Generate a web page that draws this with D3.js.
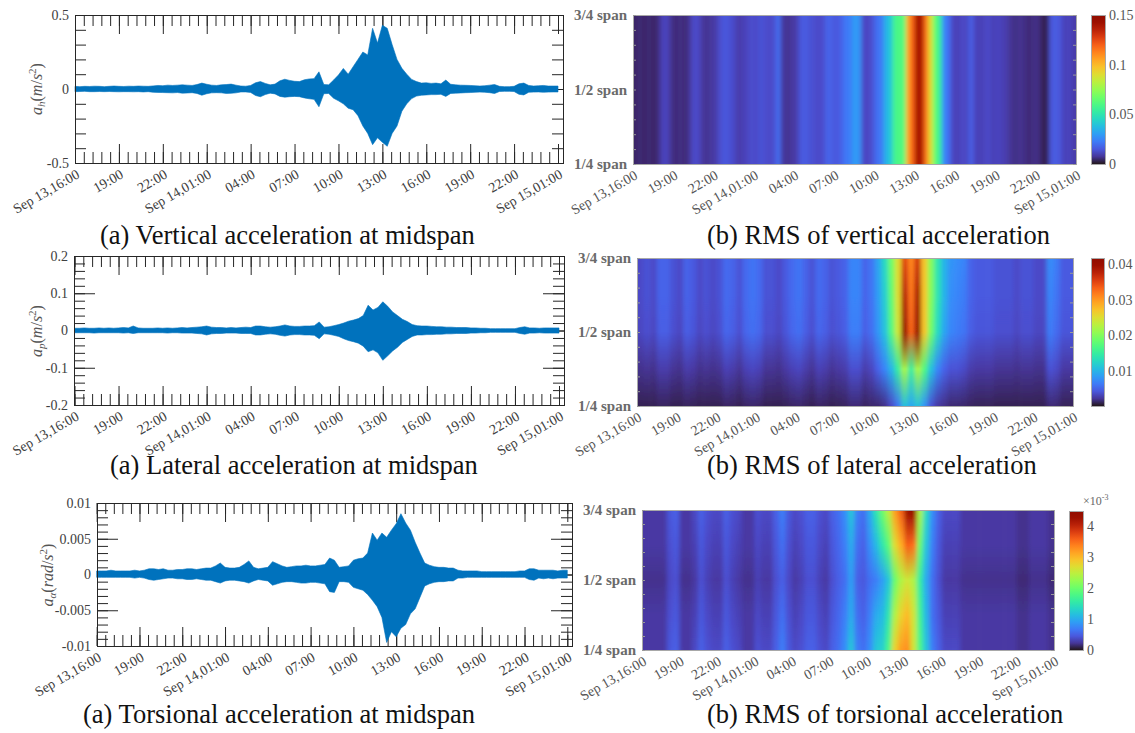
<!DOCTYPE html>
<html>
<head>
<meta charset="utf-8">
<script src="https://cdn.jsdelivr.net/npm/d3@7"></script>
<style>
  body { margin: 0; background: #fff; }
  svg { display: block; }
</style>
</head>
<body>
<svg id="fig" width="1135" height="733"></svg>
<script>
// ---- data (values in 1e-3 units: m/s^2 or rad/s^2) ----
const tickLabels = ["Sep 13,16:00","19:00","22:00","Sep 14,01:00","04:00","07:00",
                    "10:00","13:00","16:00","19:00","22:00","Sep 15,01:00"]

// acceleration envelopes, one value every 20 min from Sep 13 16:00 to Sep 15 01:00
const seriesStepMin = 20
const vertUp = [18,16,18,17,19,18,16,18,20,18,17,19,18,20,19,18, 21,24,22,26,24,26,28,26,24, 30,40,32, 26,24,28, 30,33,26, 20,19,24, 42,50,38, 28,33, 55,66,58,52, 50,62,68,70, 116, 30,28, 60,95,139, 100,150,200,250,230,410,310,430,410,300,200,140,100,65,50, 40,42,38,40,35, 60, 32,28,26,25,24,22, 20,22, 26,30, 18,16,16,18, 35,40, 24,20,22,24,20,20,20]
const vertLo = [18,17,16,18,18,17,18,17,18,19,18,18,19,18,20,18, 22,23,24,25,26,24,28,27,25, 30,42,32, 26,25,26, 30,29,26, 20,20,23, 44,52,38, 28,33, 50,55,52,50, 52,60,66,70, 120, 32,30, 62,80,100, 130,140,180,250,300,376,330,360,387,300,250,150,100,65,48, 42,40,38,38,36, 50, 30,28,27,25,24,22, 21,22, 25,30, 17,16,16,17, 36,40, 22,21,20,22,21,20,20]
const latUp = [6,6,7,6,6,7,6,7,6,7,8,7,12,7,6,6, 6,7,6,7,6,7,8,7,8, 9,10,12, 9,8,8, 7,8,7, 8,9,8, 12,12,10, 9,10, 12,15,12,11, 11,12,12,13, 23, 9,10, 13,16,20, 25,28,32,40,68,55,62,77,65,50,40,30,24,16,13, 12,12,11,10,10, 9, 9,8,8,8,7,7, 6,6, 5,5, 5,5,5,5, 8,10, 7,7,6,7,7,7,7]
const latLo = [6,6,6,6,7,6,6,6,6,6,7,6,8,6,6,6, 6,6,6,7,6,6,7,7,7, 8,9,12, 9,8,8, 7,7,7, 8,8,8, 12,12,10, 9,10, 13,15,12,11, 11,12,12,13, 22, 9,10, 13,16,22, 27,30,34,42,57,52,60,80,68,55,45,32,24,16,12, 12,11,11,10,10, 9, 9,8,8,8,7,7, 6,6, 5,5, 5,5,5,5, 8,10, 7,7,6,7,7,7,7]
const torUp = [0.5,0.5,0.5,0.6,0.5,0.5,0.5,0.5,0.6,0.5,0.6,0.8,0.8,0.7,0.8,0.6, 0.6,0.7,0.7,0.8,0.8,0.7,0.8,0.9,0.9, 1.2,1.6,1.0, 0.9,0.9,1.0, 1.4,1.9,1.0, 0.8,0.9,1.0, 1.8,1.5,1.2, 1.0,1.1, 1.2,1.2,1.3,1.2, 1.2,1.3,1.4,2.3, 2.0, 1.0,1.1, 1.2,2.0,2.2, 2.3,3.0,5.8,4.8,5.8,5.2,6.2,7.1,8.5,7.2,6.2,4.5,3.0,1.6,1.3, 1.1,1.0,1.0,0.9,0.9, 0.6, 0.5,0.5,0.5,0.5,0.4,0.4, 0.4,0.4, 0.4,0.4, 0.4,0.4,0.5,0.5, 0.8,0.8, 0.6,0.6,0.6,0.6,0.5,0.6,0.6]
const torLo = [0.4,0.4,0.4,0.4,0.4,0.4,0.4,0.4,0.5,0.4,0.5,0.7,0.8,0.7,0.6,0.5, 0.5,0.6,0.6,0.7,0.7,0.6,0.7,0.8,0.8, 1.0,1.2,0.9, 0.8,0.8,0.9, 1.0,1.2,0.9, 0.7,0.8,0.9, 1.5,1.3,1.1, 1.0,1.0, 1.1,1.2,1.2,1.1, 1.1,1.2,1.3,2.4, 2.5, 1.0,1.0, 1.1,1.8,2.0, 2.2,2.8,3.6,4.5,6.0,9.5,8.0,8.7,7.5,7.0,5.5,4.8,3.2,1.6,1.3, 1.1,1.0,1.0,0.9,0.9, 0.5, 0.5,0.4,0.4,0.4,0.4,0.4, 0.4,0.4, 0.4,0.4, 0.4,0.4,0.4,0.4, 0.7,0.8, 0.5,0.6,0.5,0.6,0.5,0.5,0.5]

const vertYTicks = [-500, 0, 500], vertYLabels = ["-0.5", "0", "0.5"]
const latYTicks = [-200, -100, 0, 100, 200], latYLabels = ["-0.2", "-0.1", "0", "0.1", "0.2"]
const torYTicks = [-10, -5, 0, 5, 10], torYLabels = ["-0.01", "-0.005", "0", "0.005", "0.01"]

// RMS along the span; vertical every 20 min (uniform over span), others every 30 min
const rmsVert = [4,5,4,5,4,5, 10,11,7, 5,6,5,7, 12,12, 8,7,8,9, 13,15,14,12, 9,10,11, 13,12,14,13,12,13, 20, 8,7,8,9, 15,16,14, 13,12,13, 18,16, 15,17, 22,23, 30,28, 12,11,14, 20,22, 35,40, 58,60,62, 105, 120, 140,138, 115, 90, 65,55, 25,20, 11,10,12,11,17, 11,10,11,12,10,11,10,9, 7,6,7,6,5,6,6, 3,3, 15,16,14, 10,11,9]

const heatSpans = [0.75, 0.625, 0.5, 0.375, 0.25]
const latRms34 = [3.5,4,3.5,5,5,4,3.5,5,4.5,3.5, 4,3.5,4,5.5,5,4,5.5,6,5.5,4, 4,3.5,4.5,5.5,6,5,4,5.5,5,4, 4.5,5,7,7,5,6,9,13,19,25, 35,31,36,27,20,14,10,8,7.5,7, 5,4.5,4.5,4.5,4,4,4,3.5,4,4, 3.5,3.5,7.5,6.5,4.5,4.5]
const latRms58 = [3.5,4,3.5,5,5,4,3.5,5,4.5,3.5, 4,3.5,4,5.5,5,4,5.5,6,5.5,4, 4,3.5,4.5,5.5,6,5,4,5.5,5,4, 4.5,5,7,7,5,6,8.5,12,18,25, 38,32,39,27,20,14,10,7.5,7,6.5, 5,4.5,4.5,4.5,4,4,4,3.5,4,4, 3.5,3.5,7,6,4.5,4.5]
const latRms12 = [3.3,3.8,3.3,4.7,4.7,3.8,3.3,4.7,4.2,3.3, 3.8,3.3,3.8,5.2,4.7,3.8,5.2,5.7,5.2,3.8, 3.8,3.3,4.2,5.2,5.7,4.7,3.8,5.2,4.7,3.8, 4.2,4.7,6.6,6.6,4.7,5.7,8,11,17,24, 41,33,41,27,19,13,9,7,6.5,6, 4.7,4.2,4.2,4.2,3.8,3.8,3.8,3.3,3.8,3.8, 3.3,3.3,6.5,5.5,4.2,4.2]
const latRms38 = [2,2.2,2,2.7,2.7,2.2,2,2.7,2.5,2, 2.2,2,2.2,3,2.7,2.2,3,3.3,3,2.2, 2.2,2,2.5,3,3.3,2.7,2.2,3,2.7,2.2, 2.5,2.7,3.8,3.8,2.7,3.3,5,7,10,15, 22,15,22,17,11,7,5,4,4,3.5, 2.7,2.5,2.5,2.5,2.2,2.2,2.2,2,2.2,2.2, 2,2,4,3.5,2.5,2.5]
const latRms14 = [1,1,1,1.2,1.2,1,1,1.2,1.1,1, 1,1,1,1.3,1.2,1,1.3,1.4,1.3,1, 1,1,1.1,1.3,1.4,1.2,1,1.3,1.2,1, 1.1,1.2,1.6,1.6,1.2,1.4,1.5,2,3.5,6, 11,9,11,8,4,2.5,2,1.5,1.5,1.4, 1.2,1.1,1.1,1.1,1,1,1,1,1,1, 1,1,1.6,1.5,1.1,1.1]

const torRms34 = [0.25,0.25,0.25,0.25,0.45,0.5,0.25,0.25,0.35,0.5, 0.4,0.35,0.35,0.5,0.4,0.35,0.25,0.25,0.4,0.35, 0.35,0.5,0.7,0.45,0.35,0.4,0.5,0.5,0.4,0.35, 0.5,0.6,0.8,1.2,0.7,0.6,1.0,1.5,2.0,2.5, 3.2,3.6,4.3,4.4,2.4,1.4,0.8,0.5,0.35,0.35, 0.35,0.25,0.25,0.25,0.25,0.25,0.25,0.25,0.25,0.25, 0.2,0.2,0.25,0.25,0.25,0.2]
const torRms58 = [0.25,0.25,0.25,0.25,0.4,0.45,0.25,0.25,0.3,0.45, 0.35,0.3,0.3,0.45,0.35,0.3,0.25,0.25,0.35,0.3, 0.3,0.45,0.6,0.4,0.3,0.35,0.45,0.45,0.35,0.3, 0.45,0.55,0.7,1.0,0.6,0.5,0.8,1.1,1.5,1.9, 2.7,3.1,3.6,3.5,2.0,1.2,0.7,0.45,0.3,0.3, 0.3,0.25,0.25,0.25,0.25,0.25,0.25,0.25,0.25,0.25, 0.2,0.2,0.25,0.25,0.25,0.2]
const torRms12 = [0.2,0.2,0.2,0.2,0.35,0.4,0.2,0.2,0.25,0.4, 0.3,0.25,0.25,0.4,0.3,0.25,0.2,0.2,0.3,0.25, 0.25,0.4,0.5,0.35,0.25,0.3,0.4,0.4,0.3,0.25, 0.4,0.5,0.6,0.9,0.5,0.45,0.6,0.7,0.9,1.2, 2.0,2.4,2.6,2.4,1.6,1.0,0.6,0.4,0.25,0.25, 0.25,0.2,0.2,0.2,0.2,0.2,0.2,0.2,0.2,0.2, 0.15,0.15,0.2,0.2,0.2,0.15]
const torRms38 = [0.25,0.25,0.25,0.25,0.4,0.45,0.25,0.25,0.3,0.45, 0.35,0.3,0.3,0.45,0.35,0.3,0.25,0.25,0.35,0.3, 0.3,0.45,0.6,0.4,0.3,0.35,0.45,0.45,0.35,0.3, 0.45,0.55,0.7,1.0,0.6,0.5,0.7,1.0,1.1,1.5, 2.4,2.8,3.0,2.6,1.7,1.1,0.6,0.45,0.3,0.3, 0.3,0.25,0.25,0.25,0.25,0.25,0.25,0.25,0.25,0.25, 0.2,0.2,0.25,0.25,0.25,0.2]
const torRms14 = [0.25,0.25,0.25,0.25,0.45,0.5,0.25,0.25,0.35,0.5, 0.4,0.35,0.35,0.5,0.4,0.35,0.25,0.25,0.4,0.35, 0.35,0.5,0.7,0.45,0.35,0.4,0.5,0.5,0.4,0.35, 0.5,0.6,0.8,1.2,0.7,0.6,0.8,1.2,1.3,1.8, 2.8,3.2,3.3,2.6,1.8,1.2,0.7,0.5,0.35,0.35, 0.35,0.25,0.25,0.25,0.25,0.25,0.25,0.25,0.25,0.25, 0.2,0.2,0.25,0.25,0.25,0.2]

const spanTicks = [0.25, 0.5, 0.75], spanLabels = ["1/4 span", "1/2 span", "3/4 span"]
const cbVertTicks = [0, 50, 100, 150], cbVertLabels = ["0", "0.05", "0.1", "0.15"]
const cbLatTicks = [10, 20, 30, 40], cbLatLabels = ["0.01", "0.02", "0.03", "0.04"]
const cbTorTicks = [0, 1, 2, 3, 4], cbTorLabels = ["0", "1", "2", "3", "4"]

const captionsLeft = ["(a) Vertical acceleration at midspan", "(a) Lateral acceleration at midspan", "(a) Torsional acceleration at midspan"]
const captionsRight = ["(b) RMS of vertical acceleration", "(b) RMS of lateral acceleration", "(b) RMS of torsional acceleration"]

// ---- drawing ----
const svg = d3.select("#fig")
const defs = svg.append("defs")
const FONT = "'Liberation Serif','Times New Roman',serif"
const axisCol = "#262626", textCol = "#404040", blue = "#0072bd"

const tStart = new Date(2021, 8, 13, 16, 0)
const tEnd = new Date(2021, 8, 15, 1, 0)
const majorTimes = tickLabels.map((_, i) => d3.timeHour.offset(tStart, 3 * i))
const minorTimes = d3.range(0, 33 * 60 + 1, 36).map(m => d3.timeMinute.offset(tStart, m))

defs.append("filter").attr("id", "hblur")
  .attr("x", "-5%").attr("width", "110%")
  .append("feGaussianBlur").attr("stdDeviation", "2.2 0")

function addAxis(g, axis, tr, col) {
  return g.append("g").attr("transform", tr).attr("color", col || axisCol)
    .call(axis).call(a => a.select(".domain").remove())
}

function timeLabels(g, x, yb, col) {
  const a = addAxis(g, d3.axisBottom(x).tickValues(majorTimes).tickSize(0)
      .tickFormat((d, i) => tickLabels[i]), `translate(0,${yb})`)
  a.attr("font-family", FONT).attr("font-size", 14)
  a.selectAll("text")
    .attr("fill", col).attr("text-anchor", "end")
    .attr("y", 0).attr("dy", 0)
    .attr("transform", "translate(5,14) rotate(-30)")
}

function drawSeries(p) {
  const [x0, y0, x1, y1] = p.box
  const x = d3.scaleTime().domain([tStart, tEnd]).range(p.xr)
  const y = d3.scaleLinear().domain(p.dom).range([y1, y0])
  const g = svg.append("g")
  const minorY = d3.range(p.dom[0], p.dom[1] + p.minorStep / 2, p.minorStep)

  addAxis(g, d3.axisBottom(x).tickValues(minorTimes).tickSize(-11).tickFormat(""), `translate(0,${y1})`)
  addAxis(g, d3.axisBottom(x).tickValues(majorTimes).tickSize(-19).tickFormat(""), `translate(0,${y1})`)
  addAxis(g, d3.axisTop(x).tickValues(minorTimes).tickSize(-11).tickFormat(""), `translate(0,${y0})`)
  addAxis(g, d3.axisTop(x).tickValues(majorTimes).tickSize(-19).tickFormat(""), `translate(0,${y0})`)
  addAxis(g, d3.axisLeft(y).tickValues(minorY).tickSize(-11).tickFormat(""), `translate(${x0},0)`)
  addAxis(g, d3.axisLeft(y).tickValues(p.ticks).tickSize(-21).tickFormat(""), `translate(${x0},0)`)
  addAxis(g, d3.axisRight(y).tickValues(minorY).tickSize(-11).tickFormat(""), `translate(${x1},0)`)
  addAxis(g, d3.axisRight(y).tickValues(p.ticks).tickSize(-21).tickFormat(""), `translate(${x1},0)`)

  // signal envelope
  const pts = p.up.map((u, i) => ({ t: d3.timeMinute.offset(tStart, i * seriesStepMin), u: u, l: -p.lo[i] }))
  g.append("path").datum(pts)
    .attr("fill", blue).attr("stroke", blue).attr("stroke-width", 0.6)
    .attr("d", d3.area().x(d => x(d.t)).y0(d => y(d.l)).y1(d => y(d.u)))

  g.append("rect").attr("x", x0).attr("y", y0).attr("width", x1 - x0).attr("height", y1 - y0)
    .attr("fill", "none").attr("stroke", axisCol).attr("shape-rendering", "crispEdges")

  // y tick labels
  const yl = addAxis(g, d3.axisLeft(y).tickValues(p.ticks).tickSize(0).tickPadding(6)
      .tickFormat((d, i) => p.labels[i]), `translate(${x0},0)`)
  yl.attr("font-family", FONT).attr("font-size", 14).selectAll("text").attr("fill", textCol)

  timeLabels(g, x, y1, textCol)

  // y label  a_x (unit / s^2)
  const t = g.append("text")
    .attr("transform", `translate(${p.lab[0]},${p.lab[1]}) rotate(-90)`)
    .attr("text-anchor", "middle").attr("font-family", FONT).attr("font-size", 16).attr("fill", "#555")
  t.append("tspan").attr("font-style", "italic").text("a")
  t.append("tspan").attr("font-style", "italic").attr("font-size", 11).attr("dy", 3).text(p.sub)
  t.append("tspan").attr("dy", -3).text("(")
  t.append("tspan").attr("font-style", "italic").text(p.unit)
  t.append("tspan").text("/")
  t.append("tspan").attr("font-style", "italic").text("s")
  t.append("tspan").attr("font-size", 11).attr("dy", -6).text("2")
  t.append("tspan").attr("dy", 6).text(")")
}

function drawHeat(h) {
  const [x0, y0, x1, y1] = h.box
  const x = d3.scaleTime().domain([tStart, tEnd]).range([x0, x1])
  const y = d3.scaleLinear().domain([0.25, 0.75]).range([y1, y0])
  const color = d3.scaleSequential(d3.interpolateTurbo).domain(h.cdom)

  defs.append("clipPath").attr("id", "clip" + h.id).append("rect")
    .attr("x", x0).attr("y", y0).attr("width", x1 - x0).attr("height", y1 - y0)
  const g = svg.append("g").attr("clip-path", `url(#clip${h.id})`)
  const cols = g.append("g").attr("filter", "url(#hblur)")

  const n = h.rows[0].vals.length
  const colData = d3.range(n).map(k => {
    const ta = d3.timeMinute.offset(tStart, k * h.step)
    const tb = d3.timeMinute.offset(tStart, (k + 1) * h.step)
    return { k, xa: k === 0 ? x0 - 12 : x(ta), xb: k === n - 1 ? x1 + 12 : x(tb) + 0.7 }
  })

  if (h.rows.length > 1) {
    colData.forEach(c => {
      const gr = defs.append("linearGradient").attr("id", `${h.id}c${c.k}`)
        .attr("x1", 0).attr("y1", 0).attr("x2", 0).attr("y2", 1)
      h.rows.forEach(r => {
        gr.append("stop").attr("offset", (y(r.span) - y0) / (y1 - y0))
          .attr("stop-color", color(r.vals[c.k]))
      })
    })
  }

  cols.selectAll("rect").data(colData).join("rect")
    .attr("x", d => d.xa).attr("width", d => d.xb - d.xa)
    .attr("y", y0).attr("height", y1 - y0)
    .attr("fill", d => h.rows.length > 1 ? `url(#${h.id}c${d.k})` : color(h.rows[0].vals[d.k]))

  const f = svg.append("g")
  f.append("rect").attr("x", x0).attr("y", y0).attr("width", x1 - x0).attr("height", y1 - y0)
    .attr("fill", "none").attr("stroke", "#a8a8a8").attr("shape-rendering", "crispEdges")
  const spanMinor = d3.range(0, 11).map(i => 0.25 + i * 0.05)
  addAxis(f, d3.axisLeft(y).tickValues(spanMinor).tickSize(-3).tickFormat(""), `translate(${x0},0)`, "#999")
  addAxis(f, d3.axisRight(y).tickValues(spanMinor).tickSize(-3).tickFormat(""), `translate(${x1},0)`, "#999")
  const yl = addAxis(f, d3.axisLeft(y).tickValues(spanTicks).tickSize(0).tickPadding(6)
      .tickFormat((d, i) => spanLabels[i]), `translate(${x0},0)`)
  yl.attr("font-family", FONT).attr("font-size", 15).attr("font-weight", "bold")
    .selectAll("text").attr("fill", "#6a6a6a")
  timeLabels(f, x, y1, "#555")

  // colorbar
  const [cx0, cy0, cx1, cy1] = h.cbar
  const cy = d3.scaleLinear().domain(h.cdom).range([cy1, cy0])
  const cg = defs.append("linearGradient").attr("id", "cb" + h.id)
    .attr("x1", 0).attr("y1", 1).attr("x2", 0).attr("y2", 0)
  d3.range(0, 1.0001, 0.05).forEach(s => {
    cg.append("stop").attr("offset", s).attr("stop-color", d3.interpolateTurbo(s))
  })
  f.append("rect").attr("x", cx0).attr("y", cy0).attr("width", cx1 - cx0).attr("height", cy1 - cy0)
    .attr("fill", `url(#cb${h.id})`).attr("stroke", "#a8a8a8").attr("shape-rendering", "crispEdges")
  const ca = addAxis(f, d3.axisRight(cy).tickValues(h.cticks).tickSize(0).tickPadding(4)
      .tickFormat((d, i) => h.clabels[i]), `translate(${cx1},0)`)
  ca.attr("font-family", FONT).attr("font-size", 14).selectAll("text").attr("fill", "#555")
  if (h.exp) {
    const e = f.append("text").attr("x", cx1).attr("y", cy0 - 6)
      .attr("font-family", FONT).attr("font-size", 12).attr("fill", "#666")
    e.append("tspan").text("×10")
    e.append("tspan").attr("font-size", 8).attr("dy", -5).text("-3")
  }
}

const seriesPanels = [
  { box: [75, 15, 563, 163], xr: [75, 558], dom: [-500, 500], ticks: vertYTicks, labels: vertYLabels, minorStep: 100,
    up: vertUp, lo: vertLo, sub: "h", unit: "m", lab: [42, 89] },
  { box: [74, 256, 564, 405], xr: [74.5, 559], dom: [-200, 200], ticks: latYTicks, labels: latYLabels, minorStep: 20,
    up: latUp, lo: latLo, sub: "p", unit: "m", lab: [42, 331] },
  { box: [97, 503, 572, 646], xr: [96.7, 567.3], dom: [-10, 10], ticks: torYTicks, labels: torYLabels, minorStep: 1,
    up: torUp, lo: torLo, sub: "α", unit: "rad", lab: [53, 575] }
]
seriesPanels.forEach(drawSeries)

const heatPanels = [
  { id: "hv", box: [633, 15, 1076, 164], step: 20, cdom: [0, 150],
    rows: [{ span: 0.5, vals: rmsVert }],
    cbar: [1091, 15, 1105, 164], cticks: cbVertTicks, clabels: cbVertLabels },
  { id: "hl", box: [637, 258, 1073, 406], step: 30, cdom: [0.2, 41.7],
    rows: [latRms34, latRms58, latRms12, latRms38, latRms14].map((v, i) => ({ span: heatSpans[i], vals: v })),
    cbar: [1091, 258, 1104, 406], cticks: cbLatTicks, clabels: cbLatLabels },
  { id: "ht", box: [642, 510, 1054, 650], step: 30, cdom: [0, 4.5],
    rows: [torRms34, torRms58, torRms12, torRms38, torRms14].map((v, i) => ({ span: heatSpans[i], vals: v })),
    cbar: [1069, 511, 1083, 650], cticks: cbTorTicks, clabels: cbTorLabels, exp: true }
]
heatPanels.forEach(drawHeat)

// captions
const capY = [244, 474, 723]
const capLeftX = [100, 110, 83]
const capRightX = 707
capY.forEach((yy, i) => {
  svg.append("text").attr("x", capLeftX[i]).attr("y", yy)
    .attr("font-family", FONT).attr("font-size", 26.5).attr("fill", "#111").text(captionsLeft[i])
  svg.append("text").attr("x", capRightX).attr("y", yy)
    .attr("font-family", FONT).attr("font-size", 26.5).attr("fill", "#111").text(captionsRight[i])
})
</script>
</body>
</html>
